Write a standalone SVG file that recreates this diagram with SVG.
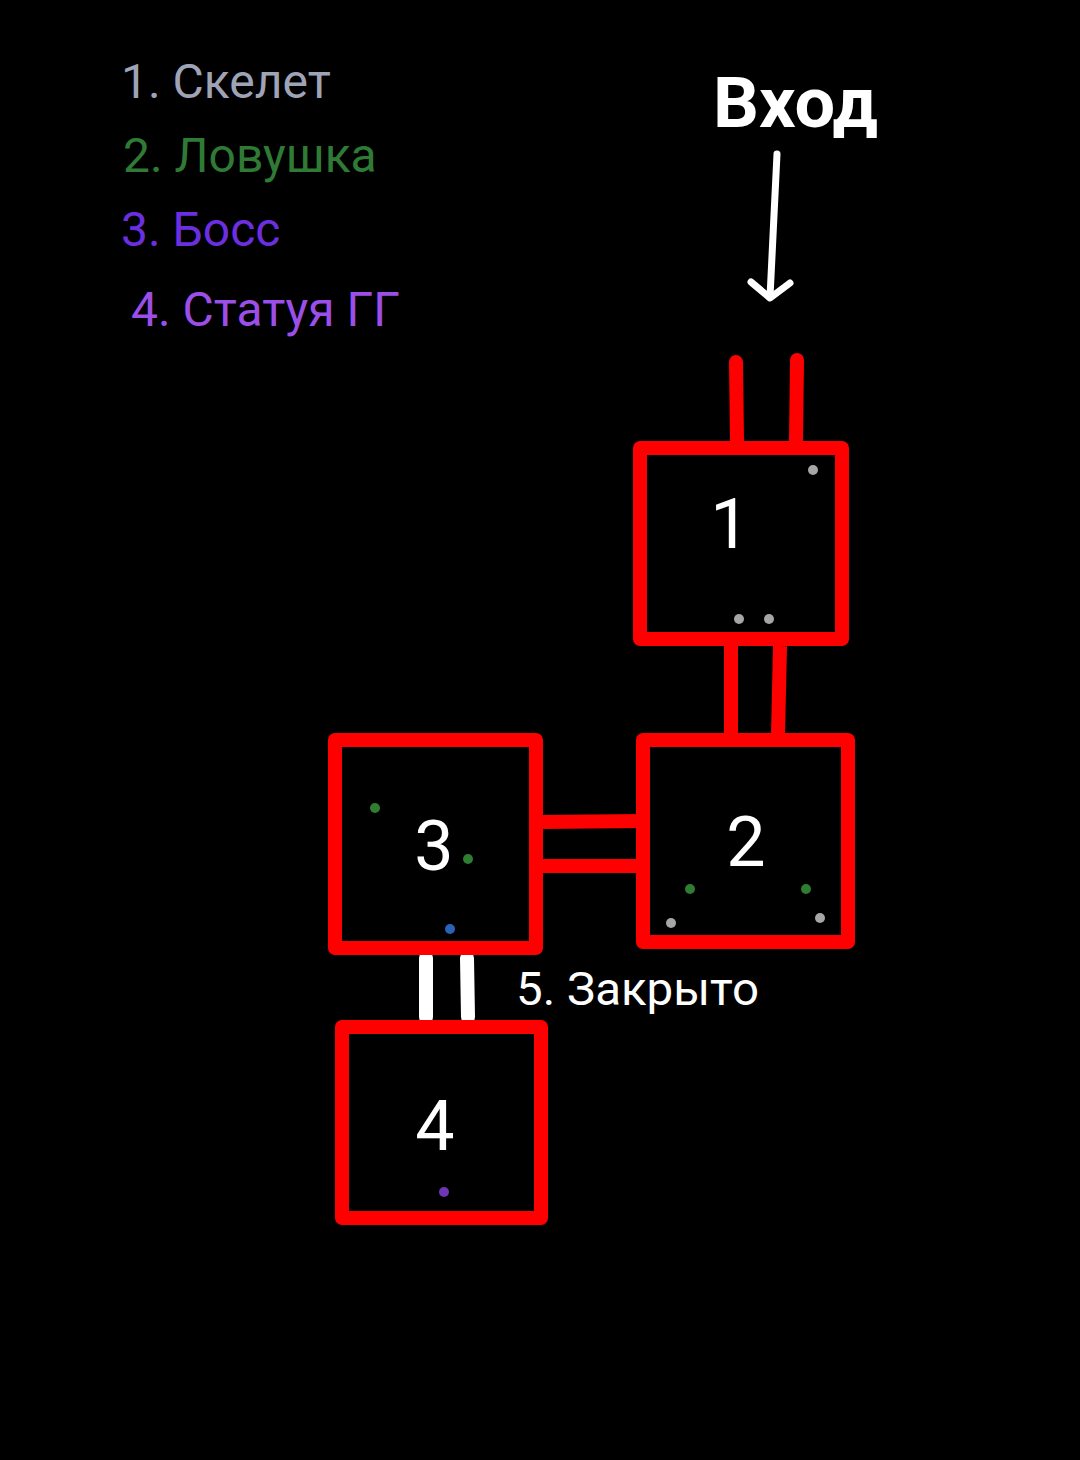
<svg xmlns="http://www.w3.org/2000/svg" width="1080" height="1460" viewBox="0 0 1080 1460">
<style>
.room{fill:none;stroke:#ff0000;stroke-width:14;stroke-linejoin:round}
.rc{stroke:#ff0000;stroke-width:14;stroke-linecap:butt}
.rcr{stroke:#ff0000;stroke-width:14;stroke-linecap:round}
.wc{stroke:#ffffff;stroke-width:14;stroke-linecap:round}
.num{font-family:Roboto,"Liberation Sans",sans-serif;font-size:70px;fill:#ffffff;text-anchor:middle}
.leg{font-family:Roboto,"Liberation Sans",sans-serif;font-size:48px}
.gray{fill:#a6a6a6}.green{fill:#2e7d32}.blue{fill:#2a62b8}.purple{fill:#6f35b5}
</style>
<rect width="1080" height="1460" fill="#000000"/>
<g id="legend">
<text class="leg" x="121" y="98" fill="#9fa3b6">1. Скелет</text>
<text class="leg" x="123" y="172" fill="#2f7a35">2. Ловушка</text>
<text class="leg" x="121" y="246" fill="#6b2fe0">3. Босс</text>
<text class="leg" x="131" y="326" fill="#9b4fe8">4. Статуя ГГ</text>
</g>
<g id="entrance">
<text x="713" y="127" font-family="Roboto,'Liberation Sans',sans-serif" font-weight="bold" font-size="70" fill="#ffffff" textLength="165" lengthAdjust="spacingAndGlyphs">Вход</text>
<g fill="none" stroke="#ffffff" stroke-width="7" stroke-linecap="round" stroke-linejoin="round">
<line x1="777" y1="154" x2="770" y2="297"/>
<polyline points="751,282 770,298 790,283"/>
</g>
</g>
<g id="connectors">
<line class="rcr" x1="736" y1="362" x2="737" y2="441"/>
<line class="rcr" x1="797" y1="360" x2="796" y2="441"/>
<line class="rc" x1="731" y1="646" x2="731" y2="734"/>
<line class="rc" x1="780" y1="646" x2="778" y2="734"/>
<line class="rc" x1="543" y1="822" x2="643" y2="821"/>
<line class="rc" x1="543" y1="866" x2="643" y2="866"/>
<line class="wc" x1="426" y1="958" x2="426" y2="1017"/>
<line class="wc" x1="467" y1="958" x2="468" y2="1017"/>
</g>
<g id="room1">
<rect class="room" x="640" y="448" width="202" height="191"/>
<text class="num" x="730" y="548">1</text>
<circle class="gray" cx="813" cy="470" r="5"/>
<circle class="gray" cx="739" cy="619" r="5"/>
<circle class="gray" cx="769" cy="619" r="5"/>
</g>
<g id="room2">
<rect class="room" x="643" y="740" width="205" height="202"/>
<text class="num" x="746" y="866">2</text>
<circle class="green" cx="690" cy="889" r="5"/>
<circle class="green" cx="806" cy="889" r="5"/>
<circle class="gray" cx="671" cy="923" r="5"/>
<circle class="gray" cx="820" cy="918" r="5"/>
</g>
<g id="room3">
<rect class="room" x="335" y="740" width="201" height="208"/>
<text class="num" x="434" y="870">3</text>
<circle class="green" cx="375" cy="808" r="5"/>
<circle class="green" cx="468" cy="859" r="5"/>
<circle class="blue" cx="450" cy="929" r="5"/>
</g>
<g id="room4">
<rect class="room" x="342" y="1027" width="199" height="191"/>
<text class="num" x="435" y="1150">4</text>
<circle class="purple" cx="444" cy="1192" r="5"/>
</g>
<g id="closed-label">
<text x="516" y="1005" font-family="Roboto,'Liberation Sans',sans-serif" font-size="46" fill="#ffffff" textLength="243" lengthAdjust="spacingAndGlyphs">5. Закрыто</text>
</g>
</svg>
